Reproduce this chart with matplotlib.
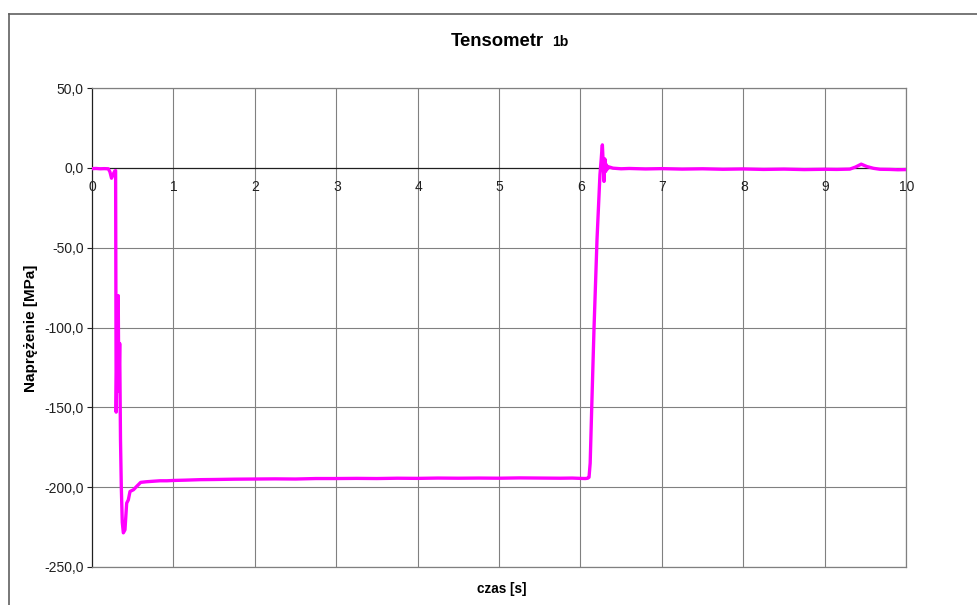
import matplotlib
matplotlib.use("Agg")
import matplotlib.pyplot as plt
from matplotlib.lines import Line2D

plt.rcParams['font.family'] = ['Liberation Sans', 'DejaVu Sans']

# Strain gauge record: time [s] and stress [MPa]
czas = [0.00, 0.05, 0.10, 0.15, 0.20, 0.22, 0.24, 0.26, 0.28, 0.29,
        0.297, 0.305, 0.315, 0.322, 0.33, 0.34, 0.35, 0.36, 0.372, 0.385,
        0.405, 0.426, 0.446, 0.467, 0.51, 0.549, 0.598, 0.67, 0.75, 0.835,
        0.92, 1.00, 1.15, 1.33, 1.5, 1.75, 2.0, 2.25, 2.5, 2.75,
        3.0, 3.25, 3.5, 3.75, 4.0, 4.25, 4.5, 4.75, 5.0, 5.25,
        5.5, 5.75, 5.9, 6.0, 6.06, 6.09, 6.106, 6.12, 6.142, 6.167,
        6.204, 6.24, 6.255, 6.265, 6.27, 6.28, 6.29, 6.30, 6.31, 6.32,
        6.33, 6.35, 6.40, 6.5, 6.6, 6.8, 7.0, 7.25, 7.5, 7.75,
        8.0, 8.25, 8.5, 8.75, 9.0, 9.15, 9.31, 9.38, 9.45, 9.52,
        9.6, 9.68, 9.8, 9.9, 10.0]
naprezenie = [-0.5, -0.4, -0.6, -0.5, -0.6, -2.5, -6.5, -4.0, -2.0, -1.7,
              -153.0, -120.0, -82.0, -80.0, -140.0, -110.0, -170.0, -200.0, -222.0, -228.6,
              -226.7, -210.0, -208.0, -202.7, -201.6, -199.5, -197.0, -196.6, -196.3, -196.0,
              -196.0, -195.8, -195.6, -195.3, -195.2, -195.0, -194.9, -194.8, -194.9, -194.6,
              -194.6, -194.5, -194.6, -194.4, -194.5, -194.3, -194.4, -194.3, -194.4, -194.2,
              -194.3, -194.4, -194.3, -194.5, -194.6, -194.4, -193.8, -185.0, -145.0, -101.0,
              -45.0, -4.4, 5.0, 12.0, 14.4, 3.0, -8.5, 5.6, -2.3, 1.9,
              -0.8, 0.6, -0.2, -0.6, -0.4, -0.7, -0.5, -0.8, -0.6, -0.9,
              -0.7, -1.0, -0.8, -1.1, -0.9, -1.0, -0.8, 0.5, 2.3, 0.8,
              -0.3, -0.9, -1.0, -1.2, -1.1]

x_ticks = [0, 1, 2, 3, 4, 5, 6, 7, 8, 9, 10]
x_labels = ["0", "1", "2", "3", "4", "5", "6", "7", "8", "9", "10"]
y_ticks = [50, 0, -50, -100, -150, -200, -250]
y_labels = ["50,0", "0,0", "-50,0", "-100,0", "-150,0", "-200,0", "-250,0"]

W, H = 978, 605
fig = plt.figure(figsize=(W / 100, H / 100), dpi=100)
fig.patch.set_facecolor("white")

# chart area frame (top and left edges)
fig.add_artist(Line2D([9 / W, 9 / W], [0, 1 - 14 / H], transform=fig.transFigure,
                      color="#606060", lw=1.2))
fig.add_artist(Line2D([9 / W, 1], [1 - 14 / H, 1 - 14 / H], transform=fig.transFigure,
                      color="#606060", lw=1.2))

left, right, top, bottom = 92, 906, 88, 567
ax = fig.add_axes([left / W, 1 - bottom / H, (right - left) / W, (bottom - top) / H])
ax.set_xlim(0, 10)
ax.set_ylim(-250, 50)

# grid
for xv in x_ticks[1:]:
    ax.axvline(xv, color="#808080", lw=0.8, zorder=1)
for yv in y_ticks:
    if yv != 0:
        ax.axhline(yv, color="#808080", lw=0.8, zorder=1)
ax.axhline(0, color="#202020", lw=0.9, zorder=2)

for side in ["top", "right", "bottom"]:
    ax.spines[side].set_color("#808080")
    ax.spines[side].set_linewidth(0.9)
ax.spines["left"].set_color("#202020")
ax.spines["left"].set_linewidth(0.9)

ax.set_yticks(y_ticks)
ax.set_yticklabels(y_labels, fontsize=10, color="#202020")
ax.tick_params(axis="y", direction="out", length=3.5, width=0.8, pad=2.5, color="#202020")
ax.set_xticks([])

for xv, lab in zip(x_ticks, x_labels):
    ax.annotate(lab, (xv, 0), xytext=(0.5, -8.5), textcoords="offset points",
                ha="center", va="top", fontsize=10, color="#202020")

ax.plot(czas, naprezenie, color="#FF00FF", lw=2.4, solid_joinstyle="round", zorder=3)

# titles
fig.text(451 / W, 1 - 46 / H, "Tensometr", fontsize=13.3, fontweight="bold",
         ha="left", va="baseline")
fig.text(552 / W, 1 - 46 / H, "1b", fontsize=10, fontweight="bold",
         ha="left", va="baseline")
fig.text(502 / W, 1 - 589 / H, "czas [s]", fontsize=9.8, fontweight="bold",
         ha="center", va="center")
fig.text(31 / W, 1 - 328 / H, "Naprężenie [MPa]", fontsize=11, fontweight="bold",
         ha="center", va="center", rotation=90)

fig.savefig("out.png", dpi=100)
